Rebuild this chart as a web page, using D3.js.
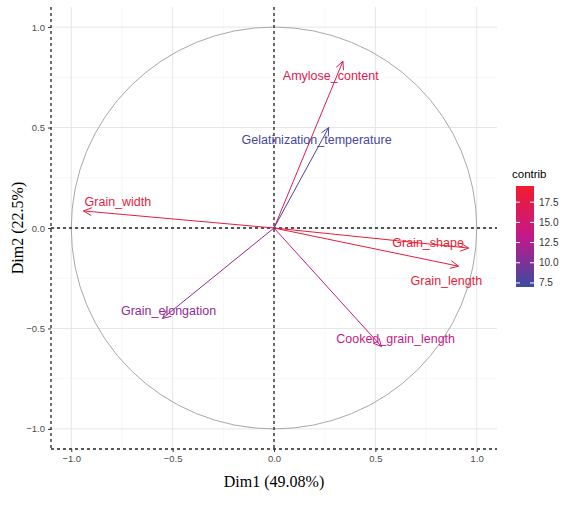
<!DOCTYPE html>
<html><head><meta charset="utf-8">
<script src="https://cdn.jsdelivr.net/npm/d3@7"></script>
<style>body{margin:0;background:#fff}</style>
</head><body><div id="chart"></div>
<script>
// variable coordinates
var vars = ["Amylose_content","Gelatinization_temperature","Grain_width","Grain_shape","Grain_length","Grain_elongation","Cooked_grain_length"];
var dim1 = [0.34, 0.27, -0.94, 0.96, 0.91, -0.55, 0.53];
var dim2 = [0.83, 0.50, 0.085, -0.10, -0.19, -0.45, -0.59];
var contrib = [17.0, 7.5, 18.0, 19.0, 18.5, 11.0, 14.0];
var labelPos = [[0.28, 0.76], [0.21, 0.44], [-0.77, 0.13], [0.76, -0.075], [0.85, -0.26], [-0.52, -0.41], [0.60, -0.55]];
var ticks = [-1.0, -0.5, 0.0, 0.5, 1.0];
var legendTicks = [7.5, 10.0, 12.5, 15.0, 17.5];

var W = 564, H = 506;
var svg = d3.select("#chart").append("svg").attr("width", W).attr("height", H);

var x = d3.scaleLinear().domain([-1.1, 1.1]).range([51, 497]);
var y = d3.scaleLinear().domain([-1.1, 1.1]).range([449, 7]);
var color = d3.scaleLinear().domain([7.0, 13.2, 19.5]).range(["#3b4ba2", "#c3188c", "#f21c2c"]);

var minor = [-0.75, -0.25, 0.25, 0.75];
var g = svg.append("g");
minor.forEach(function(v) {
	g.append("line").attr("x1", x(v)).attr("x2", x(v)).attr("y1", y(-1.1)).attr("y2", y(1.1)).attr("stroke", "#f2f2f2").attr("stroke-width", 0.6);
	g.append("line").attr("y1", y(v)).attr("y2", y(v)).attr("x1", x(-1.1)).attr("x2", x(1.1)).attr("stroke", "#f2f2f2").attr("stroke-width", 0.6);
});
ticks.forEach(function(v) {
	g.append("line").attr("x1", x(v)).attr("x2", x(v)).attr("y1", y(-1.1)).attr("y2", y(1.1)).attr("stroke", "#e6e6e6").attr("stroke-width", 1);
	g.append("line").attr("y1", y(v)).attr("y2", y(v)).attr("x1", x(-1.1)).attr("x2", x(1.1)).attr("stroke", "#e6e6e6").attr("stroke-width", 1);
});

// unit circle
svg.append("ellipse").attr("cx", x(0)).attr("cy", y(0))
	.attr("rx", x(1) - x(0)).attr("ry", y(0) - y(1))
	.attr("fill", "none").attr("stroke", "#a8a8a8").attr("stroke-width", 1);

// dashed zero lines and axis lines
function dash(x1, y1, x2, y2) {
	svg.append("line").attr("x1", x1).attr("y1", y1).attr("x2", x2).attr("y2", y2)
		.attr("stroke", "#222").attr("stroke-width", 1.3).attr("stroke-dasharray", "3,3");
}
dash(x(0), y(1.1), x(0), y(-1.1));
dash(x(-1.1), y(0), x(1.1), y(0));
dash(x(-1.1), y(1.1), x(-1.1), y(-1.1));
dash(x(-1.1), y(-1.1), x(1.1), y(-1.1));

// axes
var xAxis = svg.append("g").attr("transform", "translate(0," + y(-1.1) + ")")
	.call(d3.axisBottom(x).tickValues(ticks).tickFormat(d3.format(".1f")).tickSize(3));
var yAxis = svg.append("g").attr("transform", "translate(" + x(-1.1) + ",0)")
	.call(d3.axisLeft(y).tickValues(ticks).tickFormat(d3.format(".1f")).tickSize(3));
[xAxis, yAxis].forEach(function(a) {
	a.select(".domain").remove();
	a.selectAll("line").attr("stroke", "#333");
	a.selectAll("text").attr("fill", "#4d4d4d").style("font-family", "Liberation Sans, Arial").style("font-size", "9.5px");
});

svg.append("text").attr("x", x(0)).attr("y", 487).attr("text-anchor", "middle")
	.style("font-family", "Liberation Serif, Times New Roman").style("font-size", "16px").text("Dim1 (49.08%)");
svg.append("text").attr("transform", "translate(23," + y(0) + ") rotate(-90)").attr("text-anchor", "middle")
	.style("font-family", "Liberation Serif, Times New Roman").style("font-size", "16px").text("Dim2 (22.5%)");

// arrows
var arrows = svg.append("g");
vars.forEach(function(v, i) {
	var c = color(contrib[i]);
	var x2 = x(dim1[i]), y2 = y(dim2[i]), x1 = x(0), y1 = y(0);
	var ang = Math.atan2(y2 - y1, x2 - x1), L = 9, a = 0.45;
	arrows.append("line").attr("x1", x1).attr("y1", y1).attr("x2", x2).attr("y2", y2).attr("stroke", c).attr("stroke-width", 1);
	arrows.append("path")
		.attr("d", "M" + (x2 - L * Math.cos(ang - a)) + "," + (y2 - L * Math.sin(ang - a)) + "L" + x2 + "," + y2 +
			"L" + (x2 - L * Math.cos(ang + a)) + "," + (y2 - L * Math.sin(ang + a)))
		.attr("fill", "none").attr("stroke", c).attr("stroke-width", 1);
	arrows.append("text").attr("x", x(labelPos[i][0])).attr("y", y(labelPos[i][1])).attr("dy", "0.35em")
		.attr("text-anchor", "middle").attr("fill", c)
		.style("font-family", "Liberation Sans, Arial").style("font-size", "12.5px").text(v);
});

// legend
var lx = 516, ly0 = 186, ly1 = 287;
var ly = d3.scaleLinear().domain([7.0, 19.5]).range([ly1, ly0]);
var grad = svg.append("defs").append("linearGradient").attr("id", "gr").attr("x1", 0).attr("x2", 0).attr("y1", 1).attr("y2", 0);
d3.range(0, 1.01, 0.1).forEach(function(t) {
	grad.append("stop").attr("offset", t).attr("stop-color", color(7.0 + t * 12.5));
});
svg.append("text").attr("x", 512).attr("y", 178).style("font-family", "Liberation Sans, Arial").style("font-size", "11.5px").text("contrib");
svg.append("rect").attr("x", lx).attr("y", ly0).attr("width", 18).attr("height", ly1 - ly0).attr("fill", "url(#gr)");
legendTicks.forEach(function(t) {
	svg.append("line").attr("x1", lx).attr("x2", lx + 4).attr("y1", ly(t)).attr("y2", ly(t)).attr("stroke", "#fff");
	svg.append("line").attr("x1", lx + 14).attr("x2", lx + 18).attr("y1", ly(t)).attr("y2", ly(t)).attr("stroke", "#fff");
	svg.append("text").attr("x", lx + 23).attr("y", ly(t)).attr("dy", "0.35em").attr("fill", "#333")
		.style("font-family", "Liberation Sans, Arial").style("font-size", "10px").text(d3.format(".1f")(t));
});
</script></body></html>
